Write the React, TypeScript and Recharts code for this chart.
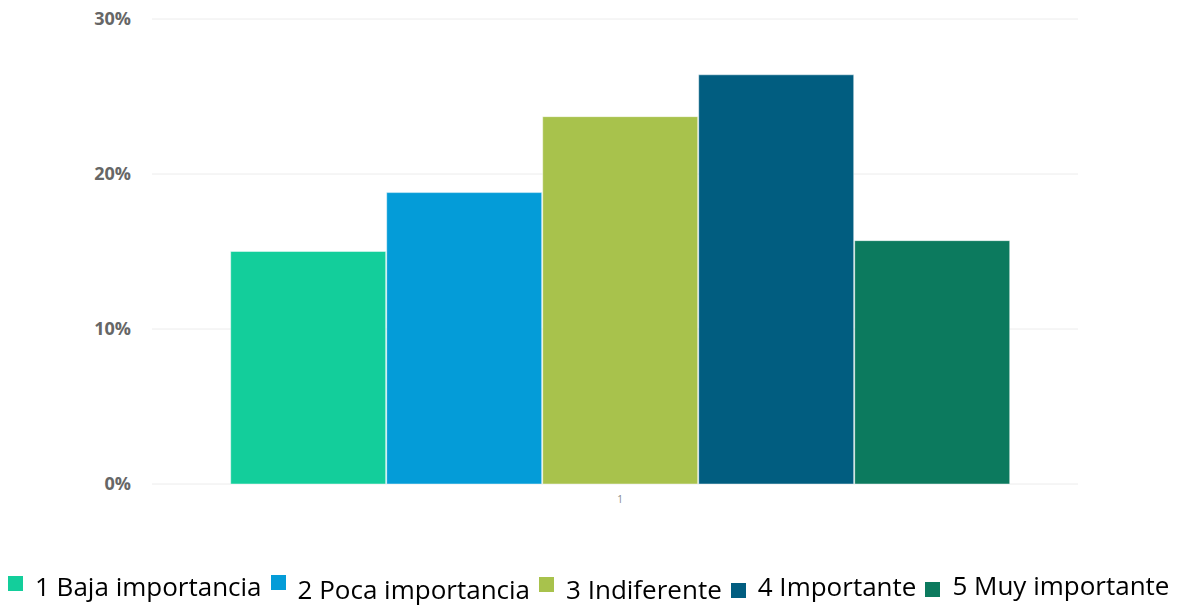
import { BarChart, Bar, XAxis, YAxis, CartesianGrid } from "recharts";

const categories = ["1"];
const seriesNames = [
  "1 Baja importancia",
  "2 Poca importancia",
  "3 Indiferente",
  "4 Importante",
  "5 Muy importante",
];
const seriesValues = [15.0, 18.8, 23.7, 26.4, 15.7];
const yTicks = [0, 10, 20, 30];

const colors = ["#13ce9b", "#049cd8", "#a8c24c", "#015d80", "#0c7a5e"];
// small vertical shifts of the legend items, as seen in the picture
const legendShift = [
  { text: 0, box: 0 },
  { text: 3, box: -1 },
  { text: 3, box: 1 },
  { text: 0, box: 7 },
  { text: -1, box: 6 },
];

const data = categories.map((c) => {
  const row: Record<string, string | number> = { name: c };
  seriesNames.forEach((s, i) => (row["s" + i] = seriesValues[i]));
  return row;
});

export default function App() {
  return (
    <div
      style={{
        position: "fixed",
        left: 0,
        top: 0,
        width: 1182,
        height: 606,
        background: "#fff",
        fontFamily: "'Open Sans', sans-serif",
      }}
    >
      <BarChart
        width={1182}
        height={520}
        data={data}
        margin={{ top: 19, right: 104, left: 0, bottom: 0 }}
        barCategoryGap="7.5%"
        barGap={1}
      >
        <CartesianGrid vertical={false} stroke="#ececec" />
        <XAxis
          dataKey="name"
          axisLine={false}
          tickLine={false}
          height={36}
          padding={{ left: 10, right: 0 }}
          tick={{ fontSize: 10, fill: "#888" }}
          tickMargin={6}
        />
        <YAxis
          width={152}
          domain={[0, 30]}
          ticks={yTicks}
          axisLine={false}
          tickLine={false}
          tickMargin={15}
          tickFormatter={(v) => v + "%"}
          tick={{ fontSize: 18, fontWeight: 700, fill: "#666" }}
        />
        {seriesNames.map((s, i) => (
          <Bar
            key={s}
            dataKey={"s" + i}
            name={s}
            fill={colors[i]}
            stroke="#ffffff"
            strokeOpacity={0.45}
            isAnimationActive={false}
          />
        ))}
      </BarChart>
      <div
        style={{
          position: "absolute",
          left: 8,
          top: 570,
          display: "flex",
          alignItems: "flex-start",
          gap: 9,
          whiteSpace: "nowrap",
        }}
      >
        {seriesNames.map((s, i) => (
          <div key={s} style={{ display: "flex", alignItems: "flex-start" }}>
            <span
              style={{
                display: "inline-block",
                width: 15,
                height: 15,
                background: colors[i],
                marginTop: 6 + legendShift[i].box,
                marginRight: 12,
              }}
            />
            <span
              style={{
                fontSize: 26,
                lineHeight: "32px",
                color: "#000",
                marginTop: legendShift[i].text,
              }}
            >
              {s}
            </span>
          </div>
        ))}
      </div>
    </div>
  );
}
